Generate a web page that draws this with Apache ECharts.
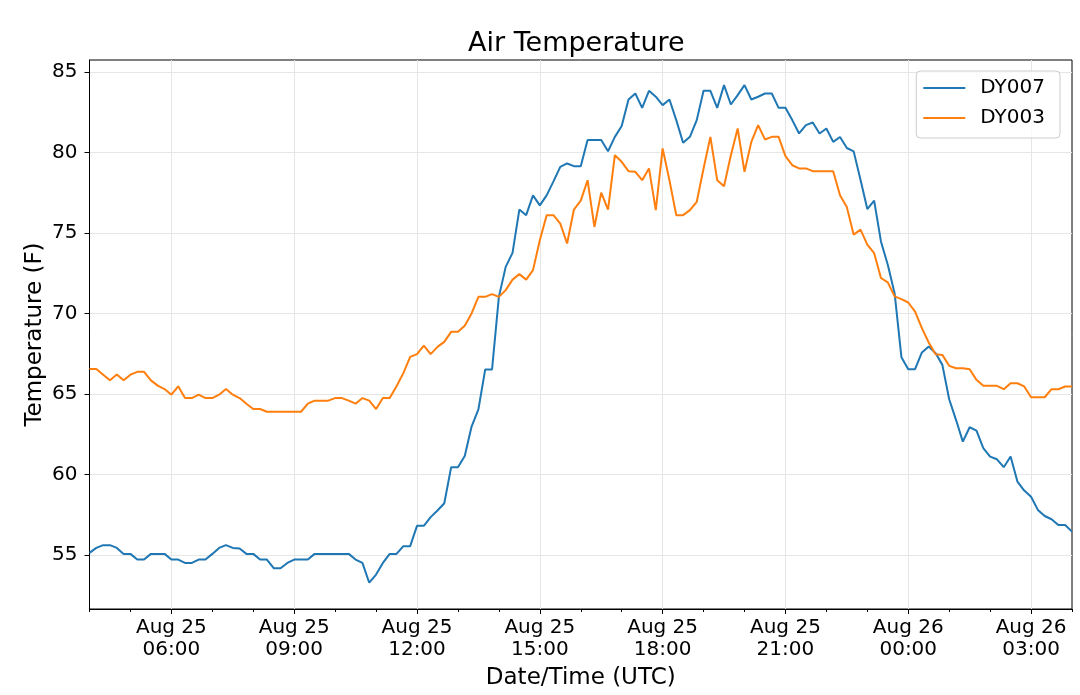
<!DOCTYPE html>
<html>
<head>
<meta charset="utf-8">
<script src="https://cdn.jsdelivr.net/npm/echarts@6/dist/echarts.min.js"></script>
<style>
  html, body { margin: 0; padding: 0; background: #fff; }
  #chart { width: 1080px; height: 695px; }
</style>
</head>
<body>
<div id="chart"></div>
<script>
// readings every 10 minutes, Aug 25 04:00 -> Aug 26 04:00 (UTC)
const startTime = Date.UTC(2019, 7, 25, 4, 0);
const stepMinutes = 10;

const dy007 = [
  55.14, 55.45, 55.62, 55.62, 55.45, 55.08, 55.08, 54.73, 54.73, 55.08,
  55.08, 55.08, 54.73, 54.73, 54.52, 54.52, 54.73, 54.73, 55.08, 55.45,
  55.62, 55.45, 55.41, 55.08, 55.08, 54.73, 54.73, 54.19, 54.19, 54.52,
  54.73, 54.73, 54.73, 55.08, 55.08, 55.08, 55.08, 55.08, 55.08, 54.73,
  54.52, 53.29, 53.80, 54.52, 55.08, 55.08, 55.56, 55.56, 56.82, 56.82,
  57.36, 57.77, 58.22, 60.45, 60.45, 61.16, 62.98, 64.05, 66.53, 66.53,
  71.03, 72.89, 73.76, 76.45, 76.10, 77.33, 76.71, 77.33, 78.20, 79.10,
  79.31, 79.14, 79.14, 80.76, 80.76, 80.76, 80.07, 80.96, 81.63, 83.28,
  83.65, 82.76, 83.82, 83.45, 82.93, 83.28, 82.00, 80.59, 80.96, 82.00,
  83.82, 83.82, 82.76, 84.17, 82.97, 83.55, 84.17, 83.28, 83.45, 83.65,
  83.65, 82.76, 82.76, 82.00, 81.17, 81.69, 81.85, 81.17, 81.48, 80.65,
  80.95, 80.27, 80.06, 78.30, 76.48, 77.00, 74.47, 73.02, 71.26, 67.29,
  66.54, 66.54, 67.58, 67.95, 67.54, 66.81, 64.68, 63.40, 62.05, 62.94,
  62.73, 61.64, 61.12, 60.95, 60.46, 61.12, 59.57, 59.01, 58.63, 57.81,
  57.43, 57.23, 56.87, 56.87, 56.46
];

const dy003 = [
  66.55, 66.55, 66.20, 65.85, 66.22, 65.85, 66.20, 66.38, 66.38, 65.85,
  65.52, 65.31, 64.96, 65.48, 64.75, 64.75, 64.96, 64.75, 64.75, 64.96,
  65.31, 64.96, 64.75, 64.40, 64.07, 64.07, 63.90, 63.90, 63.90, 63.90,
  63.90, 63.90, 64.40, 64.59, 64.59, 64.59, 64.75, 64.75, 64.59, 64.40,
  64.75, 64.59, 64.07, 64.75, 64.75, 65.48, 66.30, 67.31, 67.48, 68.00,
  67.48, 67.93, 68.24, 68.86, 68.86, 69.24, 70.00, 71.03, 71.03, 71.20,
  71.03, 71.45, 72.10, 72.44, 72.10, 72.69, 74.55, 76.10, 76.10, 75.58,
  74.34, 76.45, 77.00, 78.27, 75.37, 77.50, 76.45, 79.82, 79.41, 78.83,
  78.79, 78.27, 79.00, 76.41, 80.24, 78.27, 76.10, 76.10, 76.41, 76.93,
  79.00, 80.96, 78.27, 77.90, 79.82, 81.48, 78.79, 80.65, 81.69, 80.80,
  80.96, 80.96, 79.76, 79.20, 79.00, 79.00, 78.83, 78.82, 78.82, 78.82,
  77.34, 76.60, 74.89, 75.20, 74.27, 73.75, 72.20, 71.93, 71.06, 70.89,
  70.68, 70.12, 69.09, 68.20, 67.47, 67.43, 66.75, 66.60, 66.60, 66.54,
  65.88, 65.51, 65.51, 65.51, 65.30, 65.67, 65.67, 65.47, 64.80, 64.80,
  64.80, 65.30, 65.30, 65.47, 65.47
];

const yTicks = [55, 60, 65, 70, 75, 80, 85];

const months = ['Jan', 'Feb', 'Mar', 'Apr', 'May', 'Jun', 'Jul', 'Aug', 'Sep', 'Oct', 'Nov', 'Dec'];
const pad = n => (n < 10 ? '0' + n : '' + n);
const times = dy007.map((_, i) => {
  const d = new Date(startTime + i * stepMinutes * 60000);
  return months[d.getUTCMonth()] + ' ' + d.getUTCDate() + '\n' +
    pad(d.getUTCHours()) + ':' + pad(d.getUTCMinutes());
});

// major every 3 h on the hour multiple of 3, minor every hour
const isMajor = i => {
  const d = new Date(startTime + i * stepMinutes * 60000);
  return d.getUTCMinutes() === 0 && d.getUTCHours() % 3 === 0;
};
const isMinor = i => {
  const d = new Date(startTime + i * stepMinutes * 60000);
  return d.getUTCMinutes() === 0;
};

const font = 'DejaVu Sans';
const chart = echarts.init(document.getElementById('chart'), null, { renderer: 'canvas' });

chart.setOption({
  animation: false,
  backgroundColor: '#fff',
  title: {
    text: 'Air Temperature',
    left: 468,
    top: 30,
    padding: 0,
    textStyle: { fontFamily: font, fontSize: 27, fontWeight: 'normal', color: '#000' }
  },
  legend: {
    orient: 'vertical',
    right: 20,
    top: 71,
    padding: [5, 15, 8, 7],
    itemGap: 6,
    itemWidth: 42,
    itemHeight: 2,
    icon: 'rect',
    borderColor: '#cccccc',
    borderWidth: 1,
    borderRadius: 4,
    backgroundColor: 'rgba(255,255,255,0.8)',
    textStyle: { fontFamily: font, fontSize: 20, color: '#000', lineHeight: 24, padding: [0, 0, 0, 10] },
    data: ['DY007', 'DY003']
  },
  grid: {
    left: 89.5,
    top: 60,
    right: 8,
    bottom: 85.5,
    show: true,
    borderColor: '#000',
    borderWidth: 1,
    backgroundColor: 'transparent'
  },
  xAxis: [
    {
      type: 'category',
      data: times,
      boundaryGap: false,
      position: 'bottom',
      name: 'Date/Time (UTC)',
      nameLocation: 'middle',
      nameGap: 58,
      nameMoveOverlap: false,
      nameTextStyle: { fontFamily: font, fontSize: 23, color: '#000' },
      axisLine: { lineStyle: { color: '#000', width: 1 } },
      axisTick: { interval: i => isMajor(i), length: 5, lineStyle: { color: '#000' } },
      axisLabel: {
        interval: i => isMajor(i),
        fontFamily: font, fontSize: 20, color: '#000', lineHeight: 22, margin: 8
      },
      splitLine: { show: true, interval: i => isMajor(i), lineStyle: { color: '#e6e6e6', width: 1 } }
    },
    {
      type: 'category',
      data: times,
      boundaryGap: false,
      position: 'bottom',
      offset: 0,
      axisLine: { show: false },
      axisTick: { interval: i => isMinor(i), length: 3, lineStyle: { color: '#000' } },
      axisLabel: { show: false },
      splitLine: { show: false }
    }
  ],
  yAxis: {
    type: 'value',
    min: 51.66,
    max: 85.73,
    name: 'Temperature (F)',
    nameLocation: 'middle',
    nameGap: 43,
    nameMoveOverlap: false,
    nameTextStyle: { fontFamily: font, fontSize: 23, color: '#000' },
    axisLine: { show: true, lineStyle: { color: '#000', width: 1 } },
    axisTick: { show: true, customValues: yTicks, length: 5, lineStyle: { color: '#000' } },
    axisLabel: { customValues: yTicks, fontFamily: font, fontSize: 20, color: '#000', margin: 12 },
    splitLine: { show: true, lineStyle: { color: '#e6e6e6', width: 1 } }
  },
  series: [
    {
      name: 'DY007',
      type: 'line',
      data: dy007,
      symbol: 'none',
      color: '#1f77b4',
      lineStyle: { width: 2, color: '#1f77b4' }
    },
    {
      name: 'DY003',
      type: 'line',
      data: dy003,
      symbol: 'none',
      color: '#ff7f0e',
      lineStyle: { width: 2, color: '#ff7f0e' }
    }
  ]
});
</script>
</body>
</html>
